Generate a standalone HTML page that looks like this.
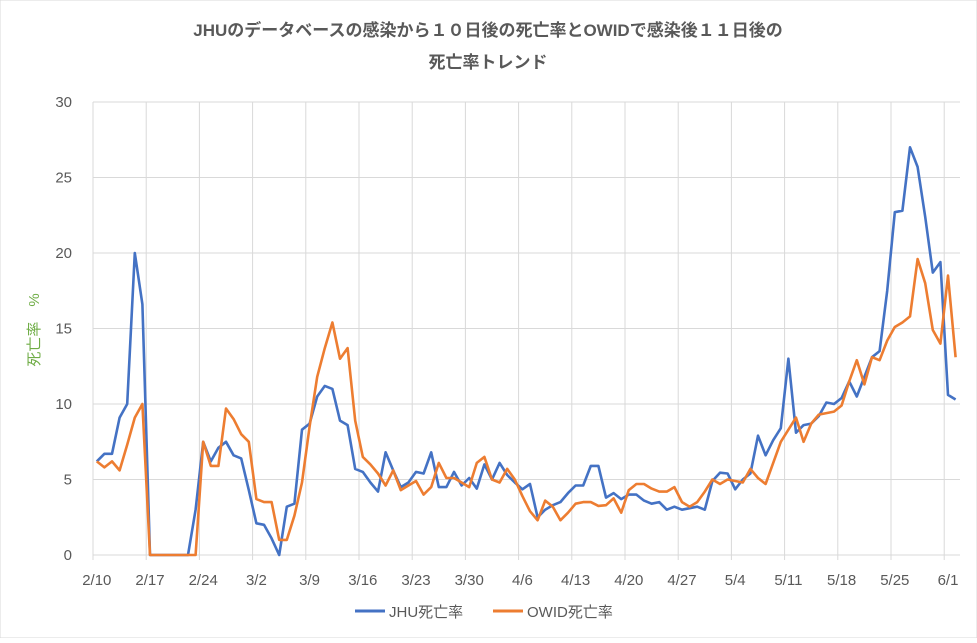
<!DOCTYPE html>
<html><head><meta charset="utf-8"><style>
body{margin:0;background:#fff;}
svg text{font-family:"Liberation Sans","Noto Sans CJK JP",sans-serif;}
</style></head><body>
<svg id="chart" width="977" height="638" viewBox="0 0 977 638" xmlns="http://www.w3.org/2000/svg">
<rect x="0" y="0" width="977" height="638" fill="#fff" stroke="#d9d9d9"/>
<text x="488" y="36" text-anchor="middle" font-size="17" font-weight="bold" fill="#595959">JHUのデータベースの感染から１０日後の死亡率とOWIDで感染後１１日後の</text>
<text x="488" y="68" text-anchor="middle" font-size="17" font-weight="bold" fill="#595959">死亡率トレンド</text>
<text transform="translate(39,330) rotate(-90)" text-anchor="middle" font-size="15" fill="#70AD47">死亡率　%</text>
<g id="grid"></g><g id="ticks"></g><g id="series"></g>
<g>
<line x1="355" y1="611" x2="385" y2="611" stroke="#4472C4" stroke-width="3"/>
<text x="389" y="617" font-size="15" fill="#595959">JHU死亡率</text>
<line x1="493" y1="611" x2="523" y2="611" stroke="#ED7D31" stroke-width="3"/>
<text x="527" y="617" font-size="15" fill="#595959">OWID死亡率</text>
</g>
</svg>
<script>
const yTicks=[0,5,10,15,20,25,30];
const xLabels=["2/10","2/17","2/24","3/2","3/9","3/16","3/23","3/30","4/6","4/13","4/20","4/27","5/4","5/11","5/18","5/25","6/1"];
const jhu=[6.2,6.7,6.7,9.1,10.0,20.0,16.6,0,0,0,0,0,0,3.0,7.5,6.2,7.1,7.5,6.6,6.4,4.3,2.1,2.0,1.1,0,3.2,3.4,8.3,8.7,10.5,11.2,11.0,8.9,8.6,5.7,5.5,4.8,4.2,6.8,5.6,4.5,4.8,5.5,5.4,6.8,4.5,4.5,5.5,4.6,5.1,4.4,6.0,5.0,6.1,5.3,4.8,4.35,4.7,2.5,3.0,3.3,3.5,4.1,4.6,4.6,5.9,5.9,3.8,4.1,3.7,4.0,4.0,3.6,3.4,3.5,3.0,3.2,3.0,3.1,3.2,3.0,4.9,5.45,5.4,4.35,5.0,5.4,7.9,6.6,7.6,8.4,13.0,8.1,8.6,8.7,9.2,10.1,10.0,10.4,11.5,10.5,11.8,13.1,13.5,17.5,22.7,22.8,27.0,25.7,22.4,18.7,19.4,10.6,10.3];
const owid=[6.2,5.8,6.2,5.6,7.3,9.1,10.0,0,0,0,0,0,0,0,7.5,5.9,5.9,9.7,9.0,8.0,7.5,3.7,3.5,3.5,1.0,1.0,2.6,4.8,8.5,11.8,13.7,15.4,13.0,13.7,8.9,6.5,6.0,5.4,4.6,5.6,4.3,4.6,4.9,4.0,4.5,6.1,5.1,5.1,4.8,4.5,6.1,6.5,5.0,4.8,5.7,5.0,3.9,2.9,2.3,3.6,3.2,2.3,2.8,3.4,3.5,3.5,3.25,3.3,3.75,2.8,4.3,4.7,4.7,4.4,4.2,4.2,4.5,3.5,3.2,3.5,4.2,5.0,4.7,5.0,4.9,4.8,5.7,5.1,4.7,6.1,7.5,8.3,9.1,7.5,8.7,9.3,9.4,9.5,9.9,11.5,12.9,11.3,13.1,12.9,14.2,15.1,15.4,15.8,19.6,18.0,14.9,14.0,18.5,13.1];
const NS="http://www.w3.org/2000/svg";
const X0=93,DAY=7.6,Y0=555,YTOP=102,YMAX=30;
const xPos=i=>X0+DAY*(i+0.5);
const yPos=v=>Y0-(v/YMAX)*(Y0-YTOP);
const grid=document.getElementById('grid'),ticks=document.getElementById('ticks'),series=document.getElementById('series');
function mk(tag,attrs,parent){const e=document.createElementNS(NS,tag);for(const k in attrs)e.setAttribute(k,attrs[k]);parent.appendChild(e);return e;}
yTicks.forEach(v=>{
  const l=mk('line',{x1:X0,x2:960,y1:yPos(v),y2:yPos(v),stroke:'#d9d9d9','stroke-width':1},grid);
  
  
  const t=mk('text',{x:72,y:yPos(v)+5,'text-anchor':'end','font-size':15,fill:'#595959'},ticks);
  t.textContent=v;
  
  
});
xLabels.forEach((s,k)=>{
  const gx=X0+k*7*DAY;
  const l=mk('line',{x1:gx,x2:gx,y1:YTOP,y2:Y0+5,stroke:'#d9d9d9','stroke-width':1},grid);
  
  
  const t=mk('text',{x:gx+3.8,y:585,'text-anchor':'middle','font-size':15,fill:'#595959'},ticks);
  t.textContent=s;
  
  
});
function line(data,color,name){
  const d=data.map((v,i)=>(i?'L':'M')+xPos(i).toFixed(1)+','+yPos(v).toFixed(1)).join(' ');
  const p=mk('path',{d:d,fill:'none',stroke:color,'stroke-width':2.6,'stroke-linejoin':'round'},series);
  
  
}
line(jhu,'#4472C4','jhu-line');
line(owid,'#ED7D31','owid-line');
</script>
</body></html>
